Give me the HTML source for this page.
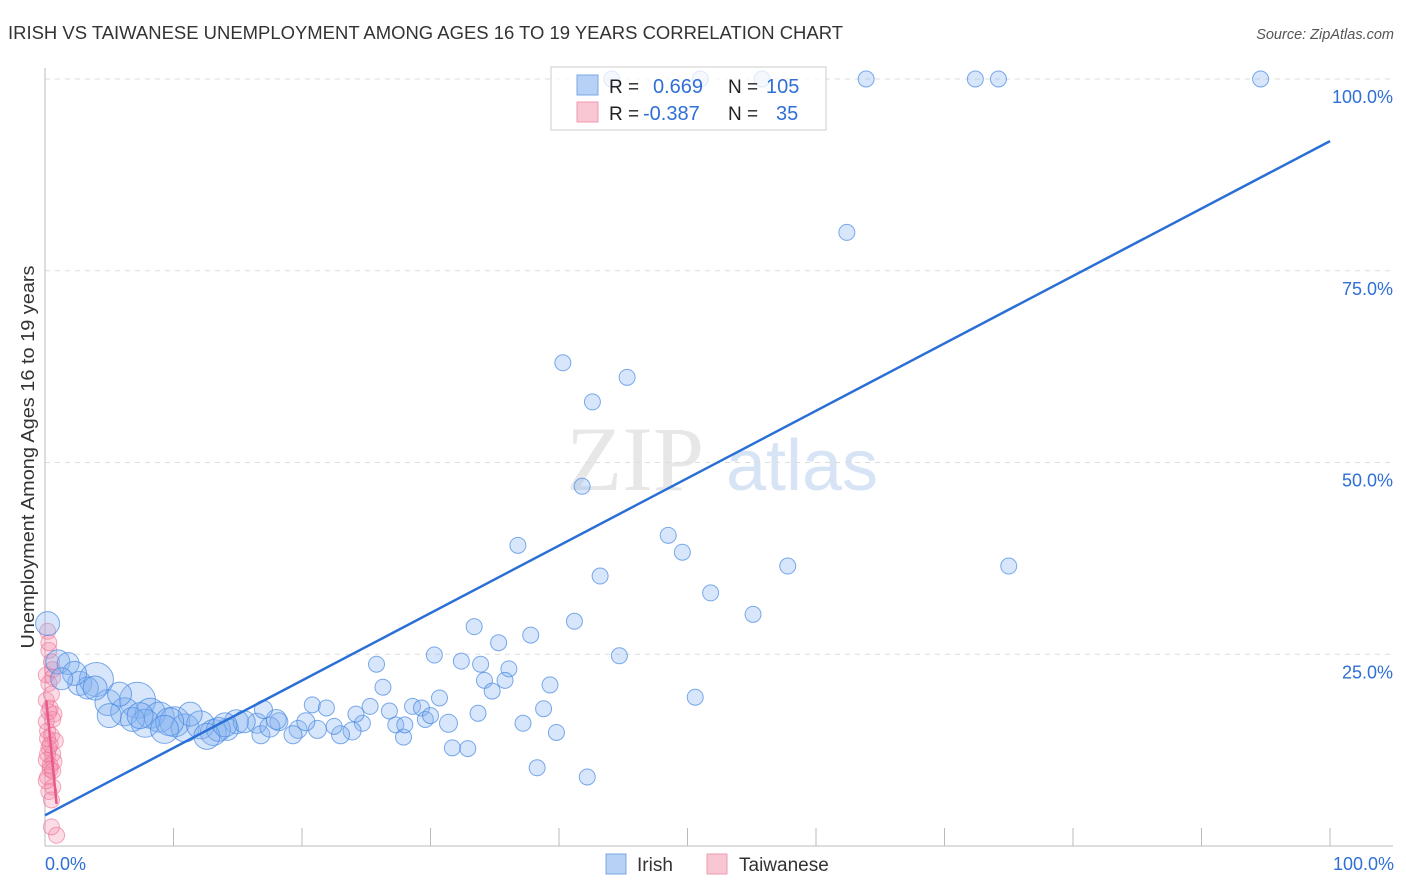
<!DOCTYPE html>
<html><head><meta charset="utf-8"><style>
body{margin:0;background:#fff;font-family:"Liberation Sans",sans-serif;}
svg{display:block}
</style></head><body>
<svg id="chart" width="1406" height="892">
<text x="8" y="39" font-size="18" fill="#333" textLength="835" lengthAdjust="spacingAndGlyphs">IRISH VS TAIWANESE UNEMPLOYMENT AMONG AGES 16 TO 19 YEARS CORRELATION CHART</text>
<text x="1394" y="39" font-size="14.5" fill="#555" font-style="italic" text-anchor="end">Source: ZipAtlas.com</text>
<text transform="translate(34,457) rotate(-90)" font-size="18" fill="#333" text-anchor="middle" textLength="383" lengthAdjust="spacingAndGlyphs">Unemployment Among Ages 16 to 19 years</text>
<g><text x="635" y="490" font-size="92" fill="#ddd" font-family="Liberation Serif,serif" text-anchor="middle" opacity="0.7">ZIP</text><text x="802" y="490" font-size="72" fill="#c7d9f2" text-anchor="middle" opacity="0.7">atlas</text></g>
<g id="grid"></g><g id="axes"></g><g id="pts"></g><g id="lines"></g>
<g>
<rect x="551" y="67" width="275" height="63" fill="rgba(255,255,255,0.75)" stroke="#ccc"/>
<rect x="577" y="75" width="21" height="20" fill="#b6d1f5" stroke="#7aa8e8"/>
<rect x="577" y="102" width="21" height="20" fill="#f9c6d4" stroke="#f09ab2"/>
<text x="609" y="93" font-size="19" fill="#222">R =</text><text x="653" y="93" font-size="20" fill="#2f6fd6">0.669</text>
<text x="728" y="93" font-size="19" fill="#222">N =</text><text x="766" y="93" font-size="20" fill="#2f6fd6">105</text>
<text x="609" y="120" font-size="19" fill="#222">R =</text><text x="643" y="120" font-size="20" fill="#2f6fd6">-0.387</text>
<text x="728" y="120" font-size="19" fill="#222">N =</text><text x="776" y="120" font-size="20" fill="#2f6fd6">35</text>
</g>
<g>
<rect x="606" y="854" width="20" height="20" fill="#b6d1f5" stroke="#7aa8e8"/><text x="637" y="871" font-size="19" fill="#333">Irish</text>
<rect x="707" y="854" width="20" height="20" fill="#f9c6d4" stroke="#f09ab2"/><text x="739" y="871" font-size="19" fill="#333">Taiwanese</text>
</g>
<text x="45" y="870" font-size="18" fill="#2f6fd6">0.0%</text>
<text x="1394" y="870" font-size="18" fill="#2f6fd6" text-anchor="end">100.0%</text>
</svg>
<script>
const irishX=[44.1,51.0,55.8,63.9,72.4,74.2,94.6,62.4,40.3,45.3,42.6,41.8,48.5,36.8,49.6,57.8,75.0,43.2,51.8,55.1,33.4,41.2,37.8,35.3,30.3,32.4,44.7,25.8,33.9,36.1,34.2,35.8,39.3,26.3,34.8,50.6,30.7,
20.8,21.9,25.3,28.6,29.3,26.8,38.8,29.6,24.7,31.4,37.2,39.8,27.3,27.9,23.9,23.0,21.2,19.7,19.3,20.3,18.2,16.5,14.9,14.2,16.8,31.7,32.9,38.3,42.2,
0.2,1.0,1.8,2.7,4.0,3.3,4.9,7.2,6.2,8.2,8.9,10.1,10.9,12.1,13.1,13.5,11.3,7.8,6.8,9.7,5.8,3.9,2.3,1.3,5.0,12.6,15.5,17.5,18.0,14.0,9.3,7.4,22.5,24.2,17.0,28.0,33.7,30.0];
const irishY=[100,100,100,100,100,100,100,80.0,63.0,61.1,57.9,46.9,40.5,39.2,38.3,36.5,36.5,35.2,33.0,30.2,28.6,29.3,27.5,26.5,24.9,24.1,24.8,23.7,23.7,23.1,21.6,21.6,21.0,20.7,20.2,19.4,19.3,
18.4,18.0,18.2,18.2,18.0,17.6,17.9,16.5,16.0,16.0,16.0,14.8,15.8,14.2,15.0,14.5,15.2,15.2,14.5,16.2,16.2,16.0,16.2,15.2,14.5,12.8,12.7,10.2,9.0,
29.0,24.0,23.8,21.2,21.7,20.6,18.7,19.0,17.5,17.3,16.8,16.2,15.4,15.8,14.8,15.2,17.2,16.0,16.5,16.2,19.8,20.6,22.5,21.8,17.0,14.3,16.2,15.5,16.5,15.8,15.2,17.0,15.6,17.2,17.8,15.8,17.3,17.0];
const irishS=[8,8,8,8,8,8,8,8,8,8,8,8,8,8,8,8,8,8,8,8,8,8,8,8,8,8,8,8,8,8,8,8,8,8,8,8,8,
8,8,8,8,8,8,8,8,8,9,8,8,8,8,9,9,9,9,9,9,9,10,12,11,9,8,8,8,8,
12,12,11,12,17,11,13,18,14,15,15,15,14,14,13,12,12,14,12,14,12,12,12,11,12,13,11,10,10,12,14,13,8,8,9,8,8,8];
const taiX=[0.2,0.3,0.5,0.1,0.6,0.3,0.4,0.7,0.1,0.6,0.2,0.5,0.8,0.3,0.6,0.1,0.7,0.4,0.2,0.6,0.3,0.9,0.5,0.1,0.5,0.3,0.6,0.2,0.4,0.1,0.5,0.3,0.6,0.2,0.4];
const taiY=[28.0,25.5,24.0,22.3,23.0,21.2,18.0,17.2,16.2,16.5,15.0,14.4,13.7,12.8,12.0,11.2,11.0,10.0,9.0,7.7,7.1,1.4,2.5,19.0,19.8,26.5,22.0,14.0,10.5,8.5,6.0,17.5,9.8,12.0,13.2];
const irishTrend=[4.0,91.9];
const taiTrend=[[0.1,19.0],[0.9,5.5]];
const yTicks=[25,50,75,100];
const xTicks=[10,20,30,40,50,60,70,80,90,100];
const NS='http://www.w3.org/2000/svg';
const X=v=>45+v*12.85, Y=v=>846-v*7.67;
function mk(tag,a,parent){const e=document.createElementNS(NS,tag);for(const k in a)e.setAttribute(k,a[k]);document.getElementById(parent).appendChild(e);return e;}
yTicks.forEach(t=>{
 const g=mk('line',{x1:45,x2:1393,y1:Y(t),y2:Y(t),stroke:'#ddd','stroke-dasharray':'5,5'},'grid');
 
 
 const tx=mk('text',{x:1393,y:Y(t)+24,'font-size':18,fill:'#2f6fd6','text-anchor':'end'},'grid');
 tx.textContent=t.toFixed(1)+'%';
 
 
});
let a=mk('line',{x1:45,x2:45,y1:68,y2:846,stroke:'#bbb'},'axes');


a=mk('line',{x1:45,x2:1393,y1:846,y2:846,stroke:'#bbb'},'axes');


xTicks.forEach(t=>{
 const l=mk('line',{x1:X(t),x2:X(t),y1:828,y2:846,stroke:'#bbb'},'axes');
 
 
});
taiX.forEach((v,i)=>{
 const c=mk('circle',{cx:X(v),cy:Y(taiY[i]),r:8,fill:'rgba(244,143,172,0.3)',stroke:'rgba(236,110,150,0.6)'},'pts');
 
 
});
irishX.forEach((v,i)=>{
 const c=mk('circle',{cx:X(v),cy:Y(irishY[i]),r:irishS[i],fill:'rgba(130,176,240,0.32)',stroke:'rgba(70,135,225,0.7)'},'pts');
 
 
});
let t=mk('line',{x1:X(0),y1:Y(irishTrend[0]),x2:X(100),y2:Y(irishTrend[1]),stroke:'#2a6fd6','stroke-width':2.5},'lines');


t=mk('line',{x1:X(taiTrend[0][0]),y1:Y(taiTrend[0][1]),x2:X(taiTrend[1][0]),y2:Y(taiTrend[1][1]),stroke:'#e85a8a','stroke-width':2.5},'lines');


</script>
</body></html>
